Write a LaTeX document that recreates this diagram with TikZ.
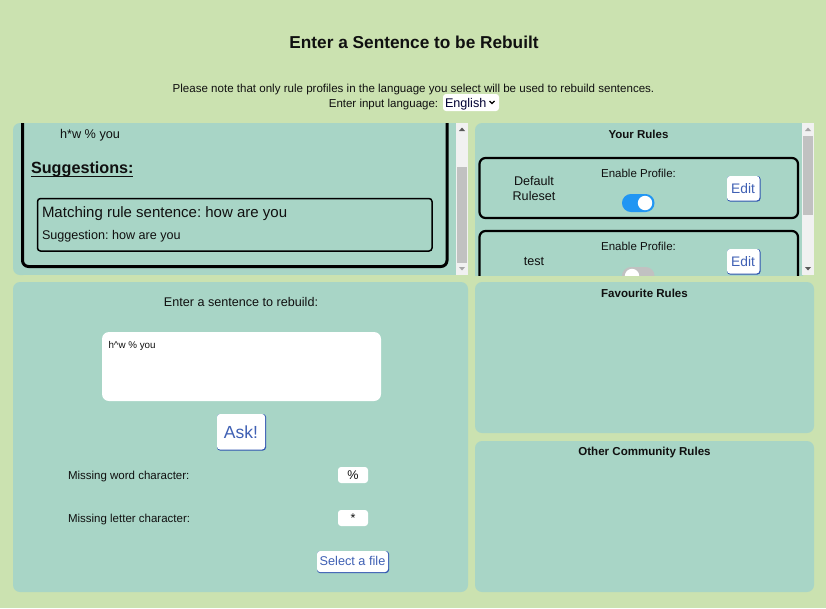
\documentclass[tikz,border=0pt]{standalone}
\usepackage{fontspec}
\setmainfont{Liberation Sans}
\frenchspacing
\definecolor{pagebg}{HTML}{CBE2B0}
\definecolor{panelbg}{HTML}{A8D5C6}
\definecolor{toggleblue}{HTML}{2196F3}
\definecolor{btnblue}{HTML}{2F55B0}
\definecolor{btntext}{HTML}{3F60B4}
\definecolor{scrolltrack}{HTML}{F1F1F1}
\definecolor{scrollthumb}{HTML}{C1C1C1}
\definecolor{ink}{HTML}{101010}
\tikzset{
  panel/.style={fill=panelbg,draw=none,rounded corners=7pt},
  txt/.style={inner sep=0pt,outer sep=0pt,text=ink,anchor=base},
  txtl/.style={inner sep=0pt,outer sep=0pt,text=ink,anchor=base west},
  whitebox/.style={fill=white,draw=none,rounded corners=3pt},
  btn/.style={fill=white,rounded corners=3pt},
  btnshadow/.style={fill=btnblue,rounded corners=3pt},
  btntxt/.style={inner sep=0pt,outer sep=0pt,text=btntext,anchor=base},
  rulebox/.style={draw=black,line width=2.2pt,rounded corners=6pt},
}
\newcommand{\fs}[1]{\fontsize{#1}{#1}\selectfont}
\newcommand{\editbutton}[1]{%
  \fill[btnshadow] (727,#1) rectangle +(33.5,25.5);
  \fill[btn] (727,#1) rectangle +(32.5,24.5);
  \node[btntxt,font=\fs{13.8}] at (743,#1+17.5) {Edit};}
\begin{document}
\begin{tikzpicture}[x=1pt,y=-1pt]
\useasboundingbox (0,0) rectangle (826,608);
\fill[pagebg] (0,0) rectangle (826,608);
% header
\node[txt,font=\fs{17.25}\bfseries] (title) at (414,48) {Enter a Sentence to be Rebuilt};
\node[txt,font=\fs{11.55}] (note) at (413.5,92) {Please note that only rule profiles in the language you select will be used to rebuild sentences.};
\node[txt,font=\fs{11.5}] (lang) at (383.5,107) {Enter input language:};
\fill[whitebox] (443,94) rectangle (499,111);
\node[txtl,font=\fs{12.6},text=black!80!blue] (english) at (445,107) {English};
\draw[line width=1.2pt,black] (489.5,101) -- (492,103.5) -- (494.5,101);
% top-left panel
\fill[panel,rounded corners=0pt] (20,123) rectangle (456,275);
\fill[panel] (13,123) rectangle (30,275);
\begin{scope}
  \clip (13,123) rectangle (456,275);
  \draw[draw=black,line width=3pt,rounded corners=6pt] (22.5,110) rectangle (447,266.5);
\end{scope}
\node[txtl,font=\fs{12.7}] (query) at (60,138.5) {h*w \% you};
\node[txtl,font=\fs{16.2}\bfseries] (sugg) at (31,173.5) {Suggestions:};
\draw[line width=1.4pt,ink] (31,176.5) -- (133,176.5);
\draw[draw=black,line width=1.5pt,rounded corners=3pt] (37.5,198.5) rectangle (432,251);
\node[txtl,font=\fs{15}] (match) at (42,217) {Matching rule sentence: how are you};
\node[txtl,font=\fs{12.6}] (suggestion) at (42,239.5) {Suggestion: how are you};
% scrollbar 1
\fill[scrolltrack] (456,123) rectangle (468,275);
\fill[scrollthumb] (457,167) rectangle (467,263);
\fill[black!65] (462,127.5) -- (465,131) -- (459,131) -- cycle;
\fill[black!35] (462,270.5) -- (465,267) -- (459,267) -- cycle;
% top-right panel
\begin{scope}
  \clip (475,123) rectangle (803,275);
  \fill[panel] (475,123) rectangle (820,290);
  \draw[rulebox] (479.5,158) rectangle (798,218);
  \draw[rulebox] (479.5,231) rectangle (798,320);
  % toggles
  \fill[toggleblue,rounded corners=8.9pt] (622,194) rectangle (654.5,212);
  \fill[white] (645,203) circle (7.2);
  \fill[scrollthumb,rounded corners=8.9pt] (622,267) rectangle (654.5,285);
  \fill[white] (632,276) circle (7.2);
  \editbutton{176}
  \editbutton{249}
\end{scope}
\node[txt,font=\fs{11.5}\bfseries] (yourrules) at (638.5,138.5) {Your Rules};
\node[txt,font=\fs{12.6}] (default) at (534,185) {Default};
\node[txt,font=\fs{12.6}] (ruleset) at (534,200) {Ruleset};
\node[txt,font=\fs{11.5}] (enable1) at (638.5,177) {Enable Profile:};
\node[txt,font=\fs{12.6}] (testname) at (534,265.5) {test};
\node[txt,font=\fs{11.5}] (enable2) at (638.5,250) {Enable Profile:};
% scrollbar 2
\fill[scrolltrack] (802,123) rectangle (814,275);
\fill[scrollthumb] (803,136) rectangle (813,215);
\fill[black!35] (808,127.5) -- (811,131) -- (805,131) -- cycle;
\fill[black!65] (808,270.5) -- (811,267) -- (805,267) -- cycle;
% lower panels
\fill[panel] (13,282) rectangle (468,592);
\fill[panel] (475,282) rectangle (814,433);
\fill[panel] (475,441) rectangle (814,592);
\node[txt,font=\fs{11.55}\bfseries] (fav) at (644.5,297) {Favourite Rules};
\node[txt,font=\fs{11.55}\bfseries] (other) at (644.5,455.5) {Other Community Rules};
\node[txt,font=\fs{12.6}] (enter) at (241,306) {Enter a sentence to rebuild:};
\fill[whitebox,rounded corners=7pt] (102,332) rectangle (381,401);
\node[txtl,font=\fs{9.8}] (area) at (108.5,348.5) {h\char94w \% you};
\fill[btnshadow] (217,414) rectangle (266,450.5);
\fill[btn] (217,414) rectangle (265,449.5);
\node[btntxt,font=\fs{17.5}] (ask) at (241,438) {Ask!};
\node[txtl,font=\fs{11.5}] (mw) at (68,479) {Missing word character:};
\fill[whitebox] (338,467) rectangle (368,483);
\node[txt,font=\fs{12.6}] (pct) at (353,479.5) {\%};
\node[txtl,font=\fs{11.5}] (ml) at (68,522) {Missing letter character:};
\fill[whitebox] (338,510) rectangle (368,526);
\node[txt,font=\fs{12.6}] (star) at (353,522.5) {*};
\fill[btnshadow] (317,551) rectangle (389,573);
\fill[btn] (317,551) rectangle (388,572);
\node[btntxt,font=\fs{12.7}] (file) at (352.5,565.5) {Select a file};
\end{tikzpicture}
\end{document}
